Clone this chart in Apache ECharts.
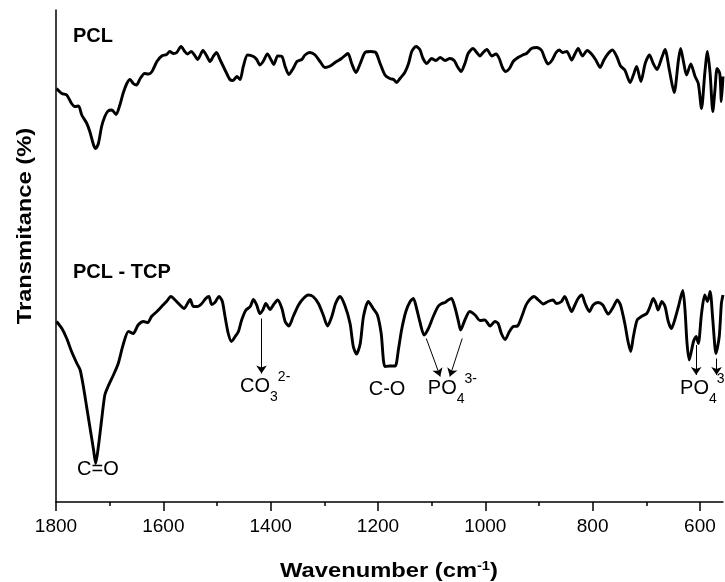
<!DOCTYPE html>
<html><head><meta charset="utf-8">
<script src="https://cdn.jsdelivr.net/npm/echarts@6/dist/echarts.min.js"></script>
<style>html,body{margin:0;padding:0;background:#fff}#c{width:725px;height:582px}</style>
</head><body><div id="c"></div>
<script>
// ---- data (wavenumber in cm-1, transmittance in arbitrary %) ----
const pclWave = [1799,1789,1780,1771,1765,1758,1752,1743,1737,1730,
1726,1721,1715,1709,1703,1696,1688,1681,1675,1668,
1662,1656,1650,1643,1635,1628,1621,1612,1603,1594,
1588,1581,1575,1567,1560,1555,1548,1542,1536,1526,
1519,1513,1507,1501,1494,1485,1476,1470,1463,1457,
1451,1443,1432,1426,1420,1414,1406,1399,1394,1387,
1379,1373,1366,1358,1351,1342,1336,1327,1317,1308,
1299,1289,1280,1268,1256,1249,1241,1233,1224,1213,
1204,1196,1187,1178,1171,1165,1159,1150,1143,1137,
1129,1122,1116,1109,1100,1092,1084,1075,1066,1058,
1052,1045,1038,1032,1023,1016,1010,1004,997,988,
980,974,968,962,955,948,939,930,923,914,
904,895,889,883,876,868,862,856,848,839,
833,827,819,810,802,794,786,779,771,763,
755,748,740,730,724,718,710,702,694,687,
680,671,665,657,648,640,636,630,625,617,
609,603,597,591,586,581,576,572,568,563,560,557];
const pclT = [82.7,81.7,81.4,79.7,79.1,79.2,77.4,75.8,74.1,71.4,
70.7,71.7,75.1,77.1,78.2,78.4,77.5,79.4,81.7,83.7,
84.5,83.7,83.4,84.7,85.7,85.6,86.1,88.1,89.2,89.5,
90.1,89.7,89.9,91.1,90.1,89.6,90.1,89.4,88.5,90.3,
89.2,88.1,89.1,89.9,88.4,86.4,84.5,84.3,85.1,84.5,
87.1,89.4,89.1,88.5,87.4,88.1,89.6,88.4,87.5,89.2,
89.1,87.1,85.5,86.7,88.1,88.5,89.4,89.9,89.4,88.1,
86.9,87.2,87.9,88.7,89.7,87.7,85.9,87.7,89.9,90.1,
89.9,87.7,85.4,84.7,84.5,83.9,84.7,85.9,87.7,90.1,
91.1,90.5,88.7,87.7,88.7,88.3,88.9,88.3,88.7,88.3,
87.1,86.1,87.7,89.7,90.7,89.9,89.2,89.9,90.5,89.2,
89.6,88.7,86.9,86.1,86.7,88.1,88.9,89.4,89.7,90.7,
90.9,90.3,88.7,87.6,88.3,89.9,90.4,89.9,90.1,88.4,
89.6,90.7,89.2,90.3,89.6,88.4,86.9,88.4,89.7,90.4,
89.1,87.2,86.4,83.9,85.4,87.1,84.1,87.7,89.4,87.7,
86.5,88.9,90.5,86.4,81.9,88.4,90.7,87.7,85.4,87.6,
85.1,83.7,78.7,85.7,90.1,85.7,78.1,82.4,86.7,85.7,80.1,85.1];

const tcpWave = [1799,1789,1780,1771,1761,1755,1749,1743,1737,1730,
1726,1721,1715,1709,1703,1693,1684,1675,1665,1656,
1647,1637,1629,1622,1612,1603,1594,1586,1578,1569,
1561,1555,1550,1544,1536,1529,1521,1515,1510,1504,
1496,1490,1485,1479,1473,1466,1460,1454,1446,1438,
1432,1426,1420,1414,1409,1401,1395,1387,1379,1373,
1366,1358,1348,1339,1330,1321,1311,1302,1294,1286,
1279,1271,1262,1252,1246,1240,1233,1227,1218,1209,
1201,1194,1187,1178,1168,1162,1156,1148,1140,1134,
1128,1122,1114,1106,1097,1088,1081,1075,1069,1063,
1056,1050,1046,1038,1029,1019,1010,1001,991,982,
976,970,963,955,948,940,932,924,917,909,
901,892,883,874,867,858,852,845,839,833,
827,820,814,806,799,790,781,771,761,754,
748,740,734,729,724,717,709,699,693,687,
682,678,671,665,659,653,647,640,632,628,
624,620,612,607,603,597,591,586,581,576,570,564,560,557];
const tcpT = [36.1,34.7,32.7,30.1,27.7,26.4,23.1,19.1,15.1,10.4,
7.7,11.1,16.4,21.4,23.1,25.4,27.7,31.4,34.1,33.7,
35.4,36.1,35.9,37.1,38.1,39.1,40.1,41.1,40.4,39.4,
38.7,39.7,40.5,39.1,39.1,39.6,40.7,41.1,39.5,39.9,
41.1,40.1,37.1,33.7,32.1,33.1,34.1,36.4,38.4,39.1,
40.5,39.4,37.7,38.5,39.7,38.5,39.4,40.4,38.7,36.1,
35.2,37.1,39.4,40.7,41.4,41.1,39.7,37.4,35.2,37.1,
39.7,41.1,39.4,35.7,31.1,29.6,31.7,37.1,40.1,38.7,
37.4,33.7,27.1,27.2,27.2,30.4,34.4,38.1,40.1,40.7,
38.7,36.1,33.4,34.7,37.1,39.1,39.7,39.9,40.4,40.7,
38.7,36.1,34.4,36.4,38.1,37.4,36.3,36.4,35.2,36.1,
35.7,33.7,32.5,34.1,35.1,35.2,37.1,39.4,40.5,41.1,
40.4,39.6,40.1,40.4,39.7,40.1,41.1,39.4,38.1,39.4,
40.7,41.4,39.7,38.1,39.4,39.9,39.4,37.6,39.1,40.4,
39.4,35.7,32.1,30.1,33.1,36.4,37.1,37.7,39.1,40.7,
39.7,38.4,40.1,39.1,36.1,34.7,36.4,39.1,42.3,38.7,
31.7,28.4,32.1,33.1,31.7,37.7,41.4,40.1,42.1,36.4,29.7,33.1,39.7,41.4];

const majorTicks = [1800,1600,1400,1200,1000,800,600];
const minorTicks = [1700,1500,1300,1100,900,700];

// annotation arrows: [fromWave, fromT, toWave, toT]
const arrowLines = [[1417,36.7,1417,25.7],[1110,32.7,1084,25.1],[1043,32.7,1066,25.1],[607,31.4,607,25.4],[569,28.7,569,25.4]];
// annotation labels
const annoText = ['{b|C=O}','{b|CO}{sub|3}{sup|2-}','{b|C-O}','{b|PO}{sub|4}{sup|3-}','{b|PO}{sub|4}{sup|3-}'];
const annoWave = [1722,1457,1183,1107,637];
const annoT = [6.5,23.1,22.6,22.7,22.7];
const annoAlign = ['center','left','center','left','left'];

const FONT = '"Liberation Sans", Arial, Helvetica, sans-serif';
const chart = echarts.init(document.getElementById('c'));
const zip = (a,b)=>a.map((v,i)=>[v,b[i]]);
const lineSeries = (data)=>({type:'line',data:data,symbol:'none',showSymbol:false,smooth:0.25,
  lineStyle:{color:'#000',width:2.9},silent:true,z:3});

const s2 = lineSeries(zip(tcpWave,tcpT));
s2.markLine = {silent:true,symbol:['none','arrow'],symbolSize:8,animation:false,
  label:{show:false},lineStyle:{color:'#000',width:1,type:'solid'},
  emphasis:{disabled:true},
  data:arrowLines.map(a=>[{coord:[a[0],a[1]]},{coord:[a[2],a[3]]}])};

chart.setOption({
  animation:false,
  backgroundColor:'#fff',
  grid:{left:56,right:2,top:10,bottom:80,containLabel:false},
  xAxis:[{type:'value',inverse:true,min:557,max:1800,position:'bottom',
    axisLine:{show:true,onZero:false,lineStyle:{color:'#000',width:1.5}},
    axisTick:{show:true,inside:false,length:9,customValues:majorTicks,lineStyle:{color:'#000',width:1.5}},
    axisLabel:{show:true,customValues:majorTicks,margin:15,color:'#000',fontSize:19,fontFamily:FONT,
      formatter:(v)=>String(v)},
    splitLine:{show:false}},
   {type:'value',inverse:true,min:557,max:1800,position:'bottom',
    axisLine:{show:false,onZero:false},
    axisTick:{show:true,inside:false,length:4,customValues:minorTicks,lineStyle:{color:'#000',width:1.5}},
    axisLabel:{show:false},splitLine:{show:false}}],
  yAxis:{type:'value',min:0,max:98.4,
    axisLine:{show:true,onZero:false,lineStyle:{color:'#000',width:1.5}},
    axisTick:{show:false},axisLabel:{show:false},splitLine:{show:false}},
  series:[lineSeries(zip(pclWave,pclT)), s2]
});

const rich = {
  b:{fontSize:20,fontFamily:FONT,fill:'#000',color:'#000',lineHeight:22},
  sub:{fontSize:14,fontFamily:FONT,fill:'#000',color:'#000',lineHeight:14,padding:[22,0,0,0]},
  sup:{fontSize:14,fontFamily:FONT,fill:'#000',color:'#000',lineHeight:14,padding:[0,0,18,0]}
};
const graphics = [];
annoText.forEach((t,i)=>{
  const p = chart.convertToPixel({seriesIndex:1},[annoWave[i],annoT[i]]);
  graphics.push({type:'text',x:p[0],y:p[1],silent:true,z:10,
    style:{text:t,rich:rich,align:annoAlign[i],verticalAlign:'middle',fill:'#000',fontSize:20,fontFamily:FONT}});
});
// panel labels
graphics.push({type:'text',x:73,y:36,silent:true,style:{text:'PCL',fontSize:20,fontWeight:'bold',fontFamily:FONT,fill:'#000',align:'left',verticalAlign:'middle'}});
graphics.push({type:'text',x:73,y:272,silent:true,style:{text:'PCL - TCP',fontSize:20,fontWeight:'bold',fontFamily:FONT,fill:'#000',align:'left',verticalAlign:'middle'}});
// axis titles
const tRich = {
  t:{fontSize:21,fontWeight:'bold',fontFamily:FONT,fill:'#000',color:'#000',lineHeight:24},
  s:{fontSize:13,fontWeight:'bold',fontFamily:FONT,fill:'#000',color:'#000',lineHeight:13,padding:[0,0,9,0]}
};
graphics.push({type:'text',x:389,y:571,scaleX:1.13,silent:true,
  style:{text:'{t|Wavenumber (cm}{s|-1}{t|)}',rich:tRich,align:'center',verticalAlign:'middle',fill:'#000'}});
graphics.push({type:'text',x:25,y:226,rotation:Math.PI/2,scaleX:1.13,silent:true,
  style:{text:'Transmitance (%)',fontSize:21,fontWeight:'bold',fontFamily:FONT,fill:'#000',align:'center',verticalAlign:'middle'}});
chart.setOption({graphic:{elements:graphics}});
</script>
</body></html>
